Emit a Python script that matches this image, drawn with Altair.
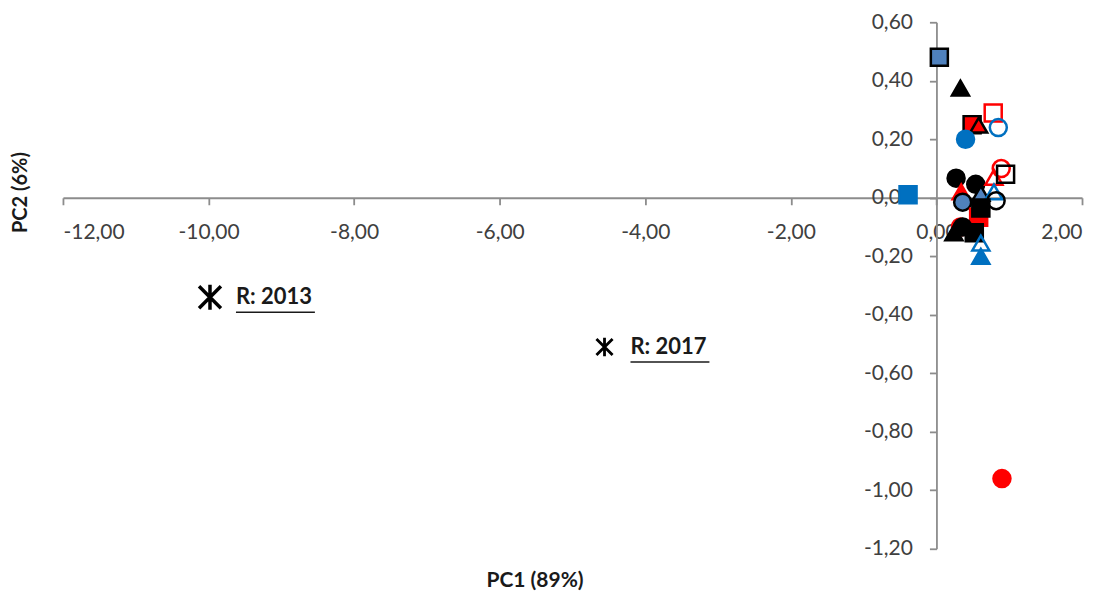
import altair as alt
import pandas as pd

# ---- sample points (PC1, PC2) ----
pc1 = [-0.39, 0.04, 0.33, 0.49, 0.58, 0.78, 0.85, 0.40, 0.27, 0.54, 0.89, 0.79, 0.95,
       0.34, 0.61, 0.79, 0.82, 0.36, 0.58, 0.61, 0.33, 0.36, 0.24, 0.52, 0.61, 0.61, 0.90]
pc2 = [0.01, 0.48, 0.375, 0.25, 0.248, 0.29, 0.24, 0.20, 0.067, 0.046, 0.10, 0.07, 0.08,
       0.02, 0.015, 0.02, -0.01, -0.015, -0.067, -0.035, -0.10, -0.10, -0.12, -0.12, -0.155, -0.20, -0.96]
shapes = ["square", "square", "triangle-up", "square", "triangle-up", "square", "circle", "circle",
          "circle", "circle", "circle", "triangle-up", "square", "triangle-up", "triangle-up",
          "triangle-up", "circle", "circle", "square", "square", "circle", "circle", "triangle-up",
          "square", "triangle-up", "triangle-up", "circle"]
fills = ["#0070C0", "#4F81BD", "#000000", "#FF0000", "#FF0000", "transparent", "transparent", "#0070C0",
         "#000000", "#000000", "transparent", "transparent", "transparent", "#FF0000", "#4F81BD",
         "transparent", "transparent", "#4F81BD", "#FF0000", "#000000", "#FF0000", "#000000", "#000000",
         "#000000", "transparent", "#0070C0", "#FF0000"]
strokes = ["#0070C0", "#000000", "#000000", "#000000", "#000000", "#FF0000", "#0070C0", "#0070C0",
           "#000000", "#000000", "#FF0000", "#FF0000", "#000000", "#FF0000", "#000000",
           "#0070C0", "#000000", "#000000", "#FF0000", "#000000", "#FF0000", "#000000", "#000000",
           "#000000", "#0070C0", "#0070C0", "#FF0000"]

# ---- reference points ----
ref_labels = ["R: 2013", "R: 2017"]
ref_pc1 = [-9.98, -4.56]
ref_pc2 = [-0.34, -0.51]
ref_sizes = [480, 260]
ref_widths = [3.5, 2.8]

x_ticks = [-12, -10, -8, -6, -4, -2, 0, 2]
y_ticks = [0.6, 0.4, 0.2, 0.0, -0.2, -0.4, -0.6, -0.8, -1.0, -1.2]

pts = pd.DataFrame({"pc1": pc1, "pc2": pc2, "shape": shapes, "fill": fills, "stroke": strokes})
refs = pd.DataFrame({"pc1": ref_pc1, "pc2": ref_pc2, "label": ref_labels,
                     "size": ref_sizes, "sw": ref_widths})

W, H = 1020, 527
X0 = W * 12 / 14          # pixel x of PC1 = 0
Y0 = H * 0.6 / 1.8        # pixel y of PC2 = 0
FONT = "Lato"
lab_expr = "replace(replace(format(datum.value, '.2f'), '.', ','), '\u2212', '-')"

x_scale = alt.Scale(domain=[-12, 2], nice=False, zero=False)
y_scale = alt.Scale(domain=[-1.2, 0.6], nice=False, zero=False)

x_axis = alt.Axis(values=x_ticks, labelExpr=lab_expr, grid=False, offset=-(H - Y0),
                  domainColor="#8c8c8c", domainWidth=1.8, tickColor="#8c8c8c", tickWidth=1.8,
                  tickSize=7, labelPadding=17, labelFont=FONT, labelFontSize=21,
                  labelColor="#404040", title="PC1 (89%)", titleFont=FONT, titleFontSize=21,
                  titleFontWeight="bold", titleColor="#1a1a1a", titleX=472,
                  titleY=559 - Y0, titleBaseline="middle", titleAlign="center",
                  labelOverlap=False)
y_axis = alt.Axis(values=y_ticks, labelExpr=lab_expr, grid=False, offset=-X0,
                  domainColor="#8c8c8c", domainWidth=1.8, tickColor="#8c8c8c", tickWidth=1.8,
                  tickSize=7, labelPadding=17, labelFont=FONT, labelFontSize=21,
                  labelColor="#404040", title="PC2 (6%)", titleFont=FONT, titleFontSize=20,
                  titleFontWeight="bold", titleColor="#1a1a1a", titleX=-42 - X0,
                  titleY=170, titleAngle=-90, titleBaseline="middle", titleAlign="center",
                  labelOverlap=False)

base_x = alt.X("pc1:Q", scale=x_scale, axis=x_axis)
base_y = alt.Y("pc2:Q", scale=y_scale, axis=y_axis)

points = alt.Chart(pts).mark_point(filled=True, opacity=1, size=290, strokeWidth=2.5).encode(
    x=base_x, y=base_y,
    shape=alt.Shape("shape:N", scale=None),
    fill=alt.Fill("fill:N", scale=None),
    stroke=alt.Stroke("stroke:N", scale=None),
)

star_path = "M-1,-1L1,1M1,-1L-1,1M0,-1.15L0,1.15"
stars = alt.Chart(refs).mark_point(shape=star_path, filled=False, color="#000000", opacity=1).encode(
    x=alt.X("pc1:Q", scale=x_scale), y=alt.Y("pc2:Q", scale=y_scale),
    size=alt.Size("size:Q", scale=None),
    strokeWidth=alt.StrokeWidth("sw:Q", scale=None),
)

labels = alt.Chart(refs).mark_text(align="left", baseline="middle", dx=26, font=FONT,
                                   fontSize=22, fontWeight="bold", color="#1a1a1a").encode(
    x=alt.X("pc1:Q", scale=x_scale), y=alt.Y("pc2:Q", scale=y_scale), text="label:N"
)

underline = alt.Chart(refs).mark_rule(color="#1a1a1a", strokeWidth=1.5, xOffset=26,
                                      x2Offset=105, yOffset=15, y2Offset=15).encode(
    x=alt.X("pc1:Q", scale=x_scale), x2="pc1:Q",
    y=alt.Y("pc2:Q", scale=y_scale), y2="pc2:Q",
)

chart = alt.layer(points, stars, labels, underline).properties(
    width=W, height=H,
    autosize=alt.AutoSizeParams(type="none"),
    padding={"left": 55, "top": 14, "right": 20, "bottom": 44},
).configure_view(stroke=None)

chart.save("out.html", embed_options={"renderer": "svg", "actions": False})
